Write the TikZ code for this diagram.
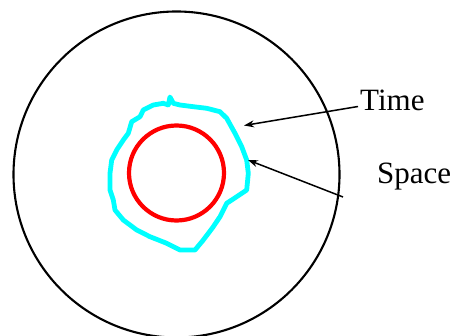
\documentclass[tikz,border=0pt]{standalone}
\usepackage{fontspec}
\setmainfont{Liberation Serif}
\usetikzlibrary{arrows.meta}
\definecolor{aqua}{RGB}{0,255,255}
\definecolor{pure red}{RGB}{255,0,0}
\begin{document}
\begin{tikzpicture}[x=1pt,y=-1pt,
  outer/.style={draw=black,line width=2.1pt},
  inner/.style={draw=pure red,line width=4.2pt},
  blob/.style={draw=aqua,line width=4.8pt,line join=round},
  pointer/.style={draw=black,line width=1.5pt,-{Stealth[length=10pt,width=7pt]}},
  lbl/.style={font=\fontsize{31}{31}\selectfont,inner sep=0pt,anchor=base west}]
\useasboundingbox (0,0) rectangle (454,336);
\draw[outer] (176.5,174.5) circle[radius=163];
\draw[inner] (176.5,173) circle[radius=47.5];
\draw[blob] (170,97) -- (168.3,105) -- (163.3,103.3) -- (153.3,105) -- (143.3,110) -- (140,116.7) -- (131.7,121.7) -- (128.3,133.3) -- (123.3,140) -- (116.7,150) -- (111.7,160) -- (110,173.3) -- (110,190) -- (113.3,200) -- (115,210) -- (123.3,220) -- (136.7,230) -- (150,236.7) -- (166.7,243.3) -- (180,250) -- (195,250) -- (203.3,240) -- (213.3,226.7) -- (220,216.7) -- (226.7,203.3) -- (236.7,196.7) -- (246.7,190) -- (248.3,173.3) -- (246.7,160) -- (241.7,146.7) -- (235,133.3) -- (226.7,118.3) -- (220,111.7) -- (206.7,108.3) -- (193.3,106.7) -- (180,105) -- (173.3,103.3) -- cycle;
\node[lbl] (time) at (360,111) {Time};
\node[lbl] (space) at (377,184) {Space};
\coordinate (timestart) at (358,106.5);
\coordinate (timeend) at (244,125.5);
\coordinate (spacestart) at (343,197);
\coordinate (spaceend) at (248,160);
\draw[pointer] (timestart) -- (timeend);
\draw[pointer] (spacestart) -- (spaceend);
\end{tikzpicture}
\end{document}
